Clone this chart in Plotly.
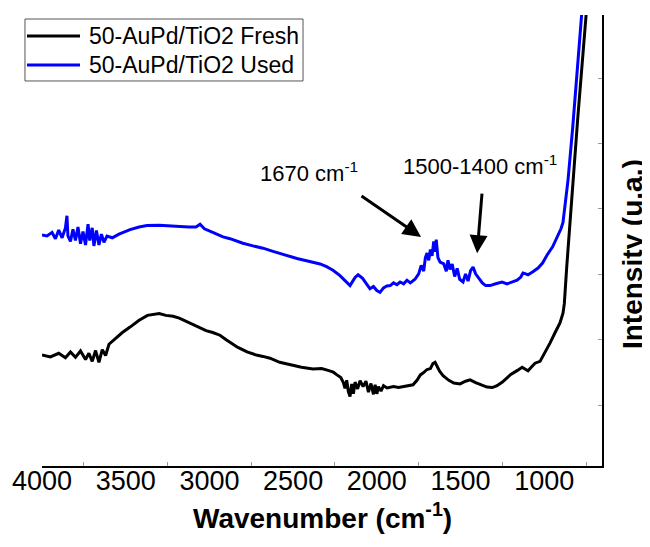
import plotly.graph_objects as go

# Fresh sample (black): wavenumber (cm-1) and intensity (a.u.)
fresh_wn = [4000, 3950, 3900, 3860, 3830, 3800, 3770, 3740, 3720, 3700, 3680, 3660, 3640, 3620,
            3600, 3560, 3520, 3474, 3420, 3370, 3337, 3300, 3260, 3217, 3180, 3140, 3100, 3074,
            3020, 2980, 2937, 2900, 2877, 2830, 2775, 2720, 2680, 2638, 2580, 2518, 2450, 2381,
            2330, 2291, 2260, 2238, 2215, 2200, 2190, 2180, 2170, 2160, 2150, 2140, 2130, 2115,
            2100, 2082, 2065, 2050, 2035, 2020, 2010, 2000, 1990, 1975, 1960, 1939, 1900, 1870,
            1843, 1810, 1784, 1760, 1740, 1724, 1700, 1680, 1665, 1652, 1640, 1625, 1604, 1570,
            1540, 1503, 1470, 1443, 1410, 1380, 1342, 1310, 1282, 1250, 1234, 1200, 1160, 1132,
            1110, 1097, 1075, 1055, 1025, 1000, 965, 935, 906, 888, 880, 866, 852, 840, 800,
            750, 700]
fresh_int = [24.6, 24.2, 25.0, 24.0, 25.3, 24.1, 25.5, 23.6, 25.0, 23.2, 25.6, 23.0, 25.8, 24.5,
             27.0, 28.3, 29.6, 30.8, 32.3, 33.4, 33.6, 33.8, 33.4, 33.2, 32.8, 32.1, 31.5, 31.0,
             30.0, 29.6, 29.0, 28.0, 27.4, 26.3, 25.3, 24.6, 24.3, 23.9, 23.0, 22.4, 21.9, 21.5,
             21.6, 21.2, 20.8, 20.2, 19.6, 18.5, 17.2, 19.0, 16.5, 15.4, 18.2, 16.0, 18.6, 17.1,
             18.9, 17.6, 18.8, 16.4, 18.3, 15.9, 18.0, 16.0, 17.6, 16.6, 17.8, 17.3, 17.6, 17.4,
             17.6, 17.8, 18.0, 19.0, 20.2, 20.6, 21.4, 21.6, 22.7, 23.0, 22.0, 21.0, 20.0, 19.0,
             18.4, 18.2, 18.8, 19.1, 18.5, 18.0, 17.5, 17.4, 17.8, 18.6, 19.1, 20.3, 21.2, 21.9,
             21.4, 21.1, 22.0, 22.8, 23.2, 24.8, 27.3, 29.6, 31.7, 33.9, 36.0, 44.0, 51.0, 58.0, 77.0,
             100.0, 123.0]

# Used sample (blue)
used_wn = [4000, 3970, 3940, 3920, 3900, 3880, 3860, 3851, 3845, 3830, 3815, 3800, 3785, 3770,
           3755, 3740, 3725, 3715, 3700, 3690, 3675, 3660, 3645, 3630, 3612, 3580, 3540, 3500,
           3474, 3420, 3373, 3300, 3240, 3176, 3120, 3080, 3056, 3030, 2980, 2919, 2877, 2800,
           2740, 2680, 2620, 2560, 2477, 2420, 2357, 2339, 2300, 2262, 2220, 2190, 2160, 2130,
           2112, 2085, 2060, 2041, 2020, 2000, 1981, 1960, 1940, 1920, 1900, 1880, 1861, 1840,
           1820, 1800, 1772, 1750, 1735, 1720, 1710, 1700, 1690, 1680, 1670, 1660, 1652, 1645,
           1635, 1622, 1600, 1585, 1575, 1563, 1550, 1535, 1520, 1505, 1485, 1470, 1455, 1440,
           1425, 1410, 1390, 1370, 1350, 1324, 1290, 1252, 1222, 1190, 1162, 1140, 1127, 1110,
           1097, 1070, 1037, 1010, 983, 950, 917, 900, 888, 876, 865, 858, 830, 780, 730]
used_int = [51.2, 51.0, 51.8, 50.4, 52.3, 50.6, 52.8, 55.5, 51.0, 49.8, 52.5, 50.0, 53.0, 49.3,
            52.0, 49.0, 53.6, 50.0, 52.8, 48.8, 52.2, 49.0, 51.4, 49.6, 51.0, 50.6, 51.4, 52.0,
            52.4, 53.0, 53.3, 53.4, 53.2, 53.1, 53.0, 53.0, 53.6, 52.6, 51.8, 50.8, 50.4, 49.4,
            48.8, 48.3, 47.6, 46.9, 46.0, 45.5, 44.9, 44.8, 44.2, 43.4, 42.2, 41.0, 40.0, 41.8,
            42.4, 41.6, 40.4, 39.3, 39.8, 38.9, 38.5, 39.5, 39.9, 40.0, 40.6, 40.2, 40.8, 40.4,
            41.2, 40.6, 41.4, 42.6, 44.5, 43.2, 46.2, 47.2, 45.6, 48.0, 46.6, 49.8, 47.5, 50.2,
            46.2, 45.2, 44.8, 43.2, 45.6, 43.6, 44.8, 42.0, 43.8, 41.4, 40.8, 42.6, 41.0, 43.3,
            44.1, 42.6, 41.6, 40.6, 40.0, 40.0, 40.4, 40.8, 40.4, 40.8, 41.2, 41.9, 42.8, 42.6,
            42.4, 43.0, 43.9, 45.0, 46.8, 48.6, 51.2, 52.6, 54.0, 57.4, 60.8, 63.4, 75.0, 100.0, 122.0]

series_names = ["50-AuPd/TiO2 Fresh", "50-AuPd/TiO2 Used"]
series_colors = ["#000000", "#0000FF"]

x_tick_vals = [4000, 3500, 3000, 2500, 2000, 1500, 1000]
x_tick_text = ["4000", "3500", "3000", "2500", "2000", "1500", "1000"]

font_family = "Liberation Sans, Arial, sans-serif"

fig = go.Figure()
fig.add_trace(go.Scatter(x=fresh_wn, y=fresh_int, mode="lines", name=series_names[0],
                         line=dict(color=series_colors[0], width=3), showlegend=False))
fig.add_trace(go.Scatter(x=used_wn, y=used_int, mode="lines", name=series_names[1],
                         line=dict(color=series_colors[1], width=3), showlegend=False))

# The page adds an 8 px body margin, so the figure is 8 px smaller and shifted accordingly
fig.update_layout(
    width=642, height=539,
    margin=dict(l=34, r=48, t=7, b=81, autoexpand=False),
    paper_bgcolor="white", plot_bgcolor="white",
    font=dict(family=font_family, color="black"),
    showlegend=False,
    xaxis=dict(range=[4000, 655], showgrid=False, zeroline=False, automargin=False,
               showline=True, linecolor="black", linewidth=1.5,
               tickvals=x_tick_vals, ticktext=x_tick_text, ticks="",
               ticklabelstandoff=-10,
               tickfont=dict(size=27, family=font_family),
               minor=dict(ticks="inside", ticklen=4, tickcolor="#999999",
                          tickvals=[3750, 3250, 2750, 2250, 1750, 1250, 750])),
    yaxis=dict(range=[0, 100], side="right", showgrid=False, zeroline=False, automargin=False,
               showline=True, linecolor="black", linewidth=1.5,
               showticklabels=False, ticks="inside", ticklen=4, tickcolor="#999999",
               tick0=-1, dtick=14.5),
)

# Legend drawn as a boxed key (paper coordinates)
fig.add_shape(type="rect", xref="paper", yref="paper", x0=-0.0304, x1=0.4661, y0=0.8537, y1=0.9911,
              line=dict(color="#555555", width=1), fillcolor="white", layer="above")
legend_rows_y = [0.9534, 0.8891]
for name, color, ly in zip(series_names, series_colors, legend_rows_y):
    fig.add_shape(type="line", xref="paper", yref="paper", x0=-0.0268, x1=0.0679, y0=ly, y1=ly,
                  line=dict(color=color, width=3), layer="above")
    fig.add_annotation(text=name, xref="paper", yref="paper", x=0.0804, y=ly,
                       xanchor="left", yanchor="middle", showarrow=False,
                       font=dict(size=23, family=font_family))

fig.add_annotation(text="<b>Wavenumber (cm<sup>-1</sup>)</b>", xref="paper", yref="paper",
                   x=0.5, y=-0.11, xanchor="center", yanchor="middle", showarrow=False,
                   font=dict(size=28, family=font_family))
fig.add_annotation(text="<b>Intensity (u.a.)</b>", xref="paper", yref="paper",
                   x=1.0536, y=0.47, xanchor="center", yanchor="middle", showarrow=False,
                   textangle=-90, font=dict(size=28, family=font_family))

# Peak labels
fig.add_annotation(text="1670 cm<sup>-1</sup>", x=2405, y=65.2, showarrow=False,
                   xanchor="center", yanchor="middle", font=dict(size=22, family=font_family))
fig.add_annotation(text="1500-1400 cm<sup>-1</sup>", x=1383, y=66.7, showarrow=False,
                   xanchor="center", yanchor="middle", font=dict(size=22, family=font_family))
# Arrows
fig.add_annotation(text="", x=1736, y=50.8, ax=-61, ay=-42, axref="pixel", ayref="pixel",
                   showarrow=True, arrowhead=2, arrowsize=1.2, arrowwidth=3, arrowcolor="black",
                   standoff=0)
fig.add_annotation(text="", x=1401, y=47.2, ax=5, ay=-61, axref="pixel", ayref="pixel",
                   showarrow=True, arrowhead=2, arrowsize=1.2, arrowwidth=3, arrowcolor="black",
                   standoff=0)

fig.write_html("out.html")
